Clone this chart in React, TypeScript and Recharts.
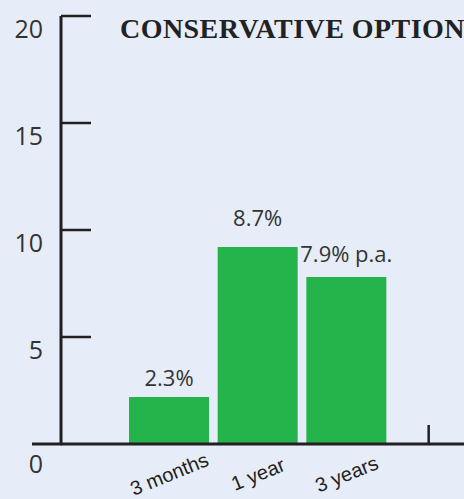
import React from 'react';
import { BarChart, Bar, XAxis, YAxis, LabelList } from 'recharts';

const categories = ['3 months', '1 year', '3 years'];
const returns = [2.2, 9.2, 7.8];
const valueLabels = ['2.3%', '8.7%', '7.9% p.a.'];
const yTicks = [0, 5, 10, 15, 20];
const title = 'CONSERVATIVE OPTION';

const data = categories.map((name, i) => ({ name, value: returns[i], label: valueLabels[i] }));

const W = 464;
const H = 499;
const AXIS_X = 61;
const PLOT_BOTTOM = 444;
const INK = '#231f20';
const TEXT = '#333333';
const LABEL_LIFT = [20, 30, 24];

const YTick = (props: any) => {
  const { y, payload } = props;
  const v = payload.value;
  return (
    <g>
      <text
        x={43}
        y={y + (v === 0 ? 19 : 12)}
        textAnchor="end"
        dominantBaseline="central"
        fontSize={25}
        fontFamily="'Open Sans', sans-serif"
        fill={TEXT}
      >
        {v}
      </text>
      {v === 0 ? (
        <line x1={32} x2={AXIS_X + 1} y1={y} y2={y} stroke={INK} strokeWidth={3} />
      ) : (
        <line x1={AXIS_X} x2={AXIS_X + 30} y1={y} y2={y} stroke={INK} strokeWidth={2.5} />
      )}
    </g>
  );
};

const XTick = (props: any) => {
  const { x, payload, index } = props;
  const cy = PLOT_BOTTOM + 30;
  return (
    <g>
      <text
        x={x}
        y={cy}
        textAnchor="middle"
        dominantBaseline="central"
        fontSize={20}
        fontFamily="'Liberation Sans', Arial, sans-serif"
        fill={INK}
        transform={`rotate(-22, ${x}, ${cy})`}
      >
        {payload.value}
      </text>
      {index === categories.length - 1 ? (
        <line x1={x + 82} x2={x + 82} y1={PLOT_BOTTOM - 19} y2={PLOT_BOTTOM} stroke={INK} strokeWidth={2.5} />
      ) : null}
    </g>
  );
};

const ValueLabel = (props: any) => {
  const { x, y, width, index, value } = props;
  return (
    <text
      x={x + width / 2}
      y={y - LABEL_LIFT[index]}
      textAnchor="middle"
      dominantBaseline="central"
      fontSize={22}
      fontFamily="'Open Sans', sans-serif"
      fill={TEXT}
    >
      {value}
    </text>
  );
};

export default function App() {
  return (
    <div
      style={{
        position: 'absolute',
        left: 0,
        top: 0,
        width: W,
        height: H,
        background: '#e7edf8',
        overflow: 'hidden',
      }}
    >
      <BarChart width={W} height={H} data={data} margin={{ top: 16, right: 0, bottom: 0, left: 0 }}>
        <XAxis
          dataKey="name"
          interval={0}
          height={55}
          padding={{ left: 64, right: 73 }}
          axisLine={{ stroke: INK, strokeWidth: 3 }}
          tickLine={false}
          tick={<XTick />}
        />
        <YAxis
          width={AXIS_X}
          domain={[0, 20]}
          ticks={yTicks}
          interval={0}
          axisLine={{ stroke: INK, strokeWidth: 3 }}
          tickLine={false}
          tick={<YTick />}
        />
        <Bar dataKey="value" fill="#25b34c" barSize={80} isAnimationActive={false}>
          <LabelList dataKey="label" content={<ValueLabel />} />
        </Bar>
      </BarChart>
      <svg
        width={W}
        height={60}
        style={{ position: 'absolute', left: 0, top: 0, pointerEvents: 'none' }}
      >
        <text
          x={120}
          y={38}
          fontSize={28}
          fontWeight="bold"
          letterSpacing={0.45}
          fontFamily="'Liberation Serif', serif"
          fill="#222"
        >
          {title}
        </text>
      </svg>
    </div>
  );
}
